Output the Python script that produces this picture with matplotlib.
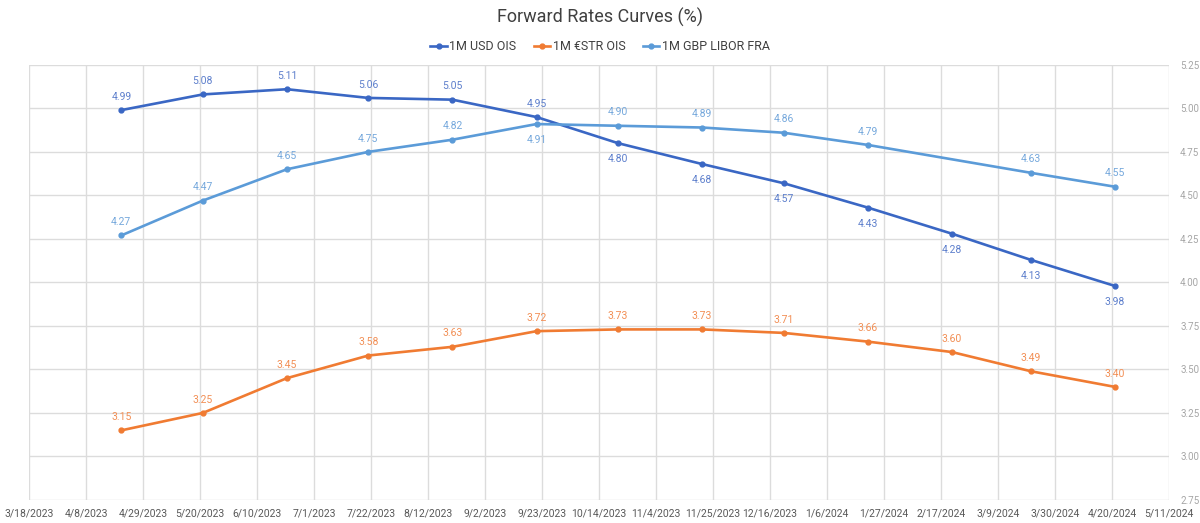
import matplotlib
matplotlib.use("Agg")
import matplotlib.pyplot as plt
import numpy as np
import pandas as pd

plt.rcParams['font.family'] = ['Roboto', 'DejaVu Sans']

# monthly forward points
dates = pd.to_datetime(["2023-04-21", "2023-05-21", "2023-06-21", "2023-07-21", "2023-08-21",
                        "2023-09-21", "2023-10-21", "2023-11-21", "2023-12-21", "2024-01-21",
                        "2024-02-21", "2024-03-21", "2024-04-21"])
usd_ois = [4.99, 5.08, 5.11, 5.06, 5.05, 4.95, 4.80, 4.68, 4.57, 4.43, 4.28, 4.13, 3.98]
estr_ois = [3.15, 3.25, 3.45, 3.58, 3.63, 3.72, 3.73, 3.73, 3.71, 3.66, 3.60, 3.49, 3.40]
gbp_fra = [4.27, 4.47, 4.65, 4.75, 4.82, 4.91, 4.90, 4.89, 4.86, 4.79, np.nan, 4.63, 4.55]

# label below the point for these indices
usd_below = [6, 7, 8, 9, 10, 11, 12]
gbp_below = [5]

tick_dates = pd.date_range("2023-03-18", "2024-05-11", freq="21D")

fig = plt.figure(figsize=(12, 5.23), dpi=100)
ax = fig.add_axes([0.0242, 0.044, 0.9500, 0.832])

series = [
    ("1M USD OIS", usd_ois, "#3a67c4", "#5d7fcc", usd_below),
    ("1M €STR OIS", estr_ois, "#f07b32", "#f28f55", []),
    ("1M GBP LIBOR FRA", gbp_fra, "#5b9bd8", "#75a8dc", gbp_below),
]

for name, vals, col, lcol, below in series:
    v = np.array(vals, dtype=float)
    ok = ~np.isnan(v)
    ax.plot(dates[ok], v[ok], color=col, lw=1.9, marker="o", ms=3.5, label=name, zorder=3)
    for i, (d, y) in enumerate(zip(dates, v)):
        if np.isnan(y):
            continue
        if i in below:
            ax.annotate(f"{y:.2f}", (d, y), xytext=(0, -8), textcoords="offset points",
                        ha="center", va="top", fontsize=7.5, color=lcol)
        else:
            ax.annotate(f"{y:.2f}", (d, y), xytext=(0, 6), textcoords="offset points",
                        ha="center", va="bottom", fontsize=7.5, color=lcol)

ax.set_xlim(tick_dates[0], tick_dates[-1])
ax.set_ylim(2.75, 5.25)
ax.set_xticks(tick_dates)
ax.set_xticklabels([f"{d.month}/{d.day}/{d.year}" for d in tick_dates])
ax.set_yticks(np.arange(2.75, 5.26, 0.25))
ax.yaxis.set_major_formatter(matplotlib.ticker.FormatStrFormatter("%.2f"))
ax.yaxis.tick_right()
ax.tick_params(axis="y", length=0, labelsize=7, labelcolor="#a6a6a6", pad=8)
ax.tick_params(axis="x", length=0, labelsize=7.5, labelcolor="#595959", pad=6)
ax.grid(True, color="#dcdcdc", lw=1)
ax.set_axisbelow(True)
for s in ax.spines.values():
    s.set_visible(False)

fig.suptitle("Forward Rates Curves (%)", y=0.985, fontsize=13, color="#404040")
fig.legend(loc="upper center", bbox_to_anchor=(0.5, 0.945), ncol=3, frameon=False,
           fontsize=9, labelcolor="#404040", handlelength=1.3, columnspacing=1.4,
           handletextpad=0.2)

fig.savefig("out.png", dpi=100)
